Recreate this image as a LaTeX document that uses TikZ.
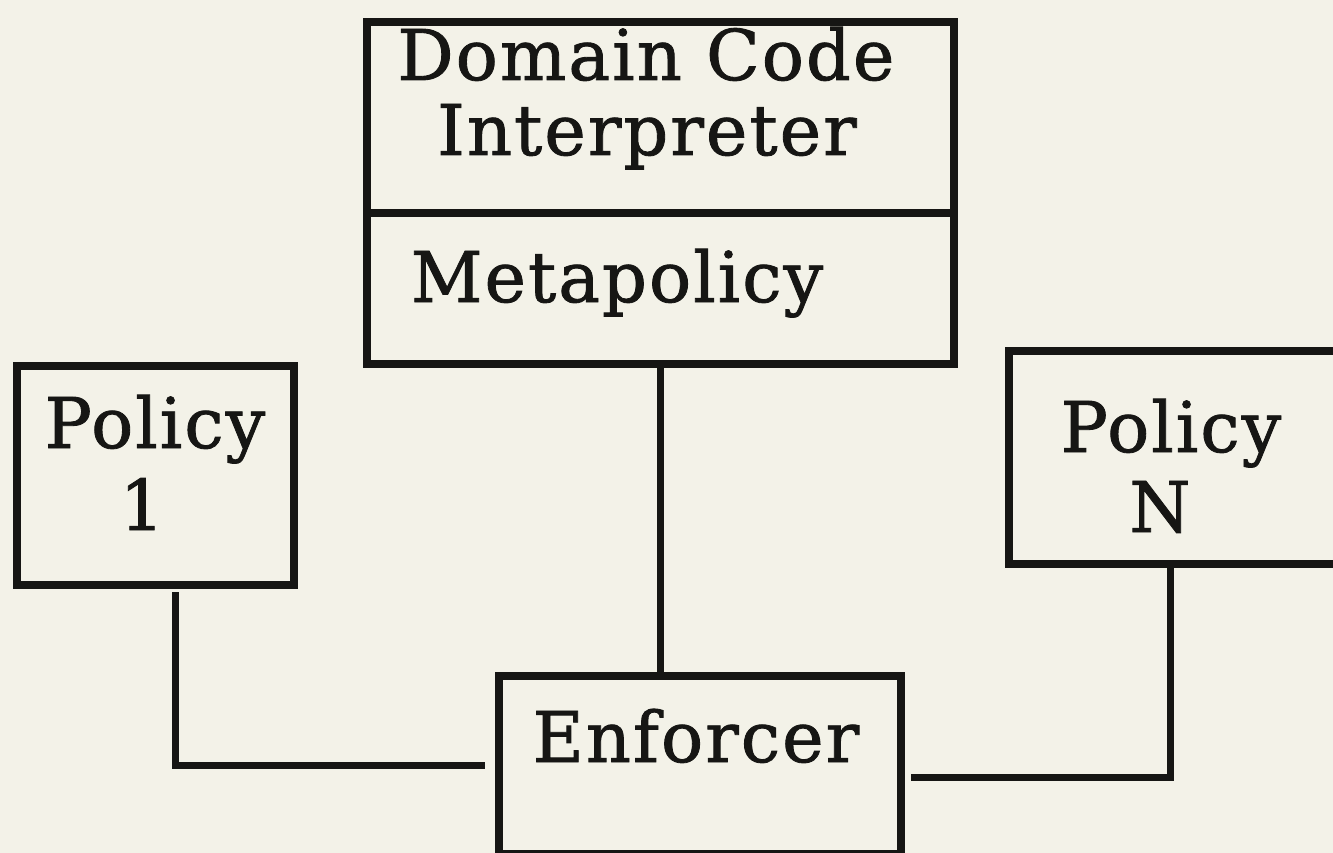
\documentclass[tikz,border=0pt]{standalone}
\usepackage{fontspec}
\setmainfont{DejaVu Serif}
\newfontfamily\boxfont{DejaVu Serif}[LetterSpace=3, BoldFont={DejaVu Serif}, BoldFeatures={FakeBold=1.2}]
\definecolor{paper}{RGB}{243,242,232}
\definecolor{ink}{RGB}{22,22,20}
\begin{document}
\begin{tikzpicture}[x=1pt,y=-1pt,
  box/.style={draw=ink, line width=8pt, inner sep=0pt, anchor=north west},
  label/.style={text=ink, inner sep=0pt, anchor=base, font=\boxfont\bfseries\fontsize{70}{80}\selectfont},
  wire/.style={draw=ink, line width=7pt}]
  % page and clipping
  \fill[paper] (0,0) rectangle (1333,853);
  \useasboundingbox (0,0) rectangle (1333,853);
  \clip (0,0) rectangle (1333,853);

  % boxes
  \node[box, minimum width=587pt, minimum height=342pt] (top) at (363,18) {};
  \node[box, minimum width=277pt, minimum height=219pt] (pol1) at (13,362) {};
  \node[box, minimum width=340pt, minimum height=213pt] (polN) at (1005,347) {};
  \node[box, minimum width=402pt, minimum height=178pt] (enf) at (495,672) {};
  \coordinate (divL) at (363,213);
  \coordinate (divR) at (950,213);
  \draw[draw=ink, line width=8pt] (divL) -- (divR);

  % labels
  \node[label] (dc) at (646,80) {Domain Code};
  \node[label] (ip) at (647,155) {Interpreter};
  \node[label] (mp) at (617,302) {Metapolicy};
  \node[label] (p1a) at (155,448) {Policy};
  \node[label] (p1b) at (142,530) {1};
  \node[label] (pNa) at (1171,452) {Policy};
  \node[label] (pNb) at (1160,532) {N};
  \node[label] (ef) at (696,762) {Enforcer};

  % connectors
  \coordinate (c1) at (175,592);
  \coordinate (cN) at (1170,568);
  \draw[wire] (top.south) -- (top.south |- enf.north);
  \draw[wire, shorten >=10pt] (c1) |- (enf.west);
  \draw[wire] (cN) |- ([yshift=-12pt,xshift=6pt]enf.east);
\end{tikzpicture}
\end{document}
